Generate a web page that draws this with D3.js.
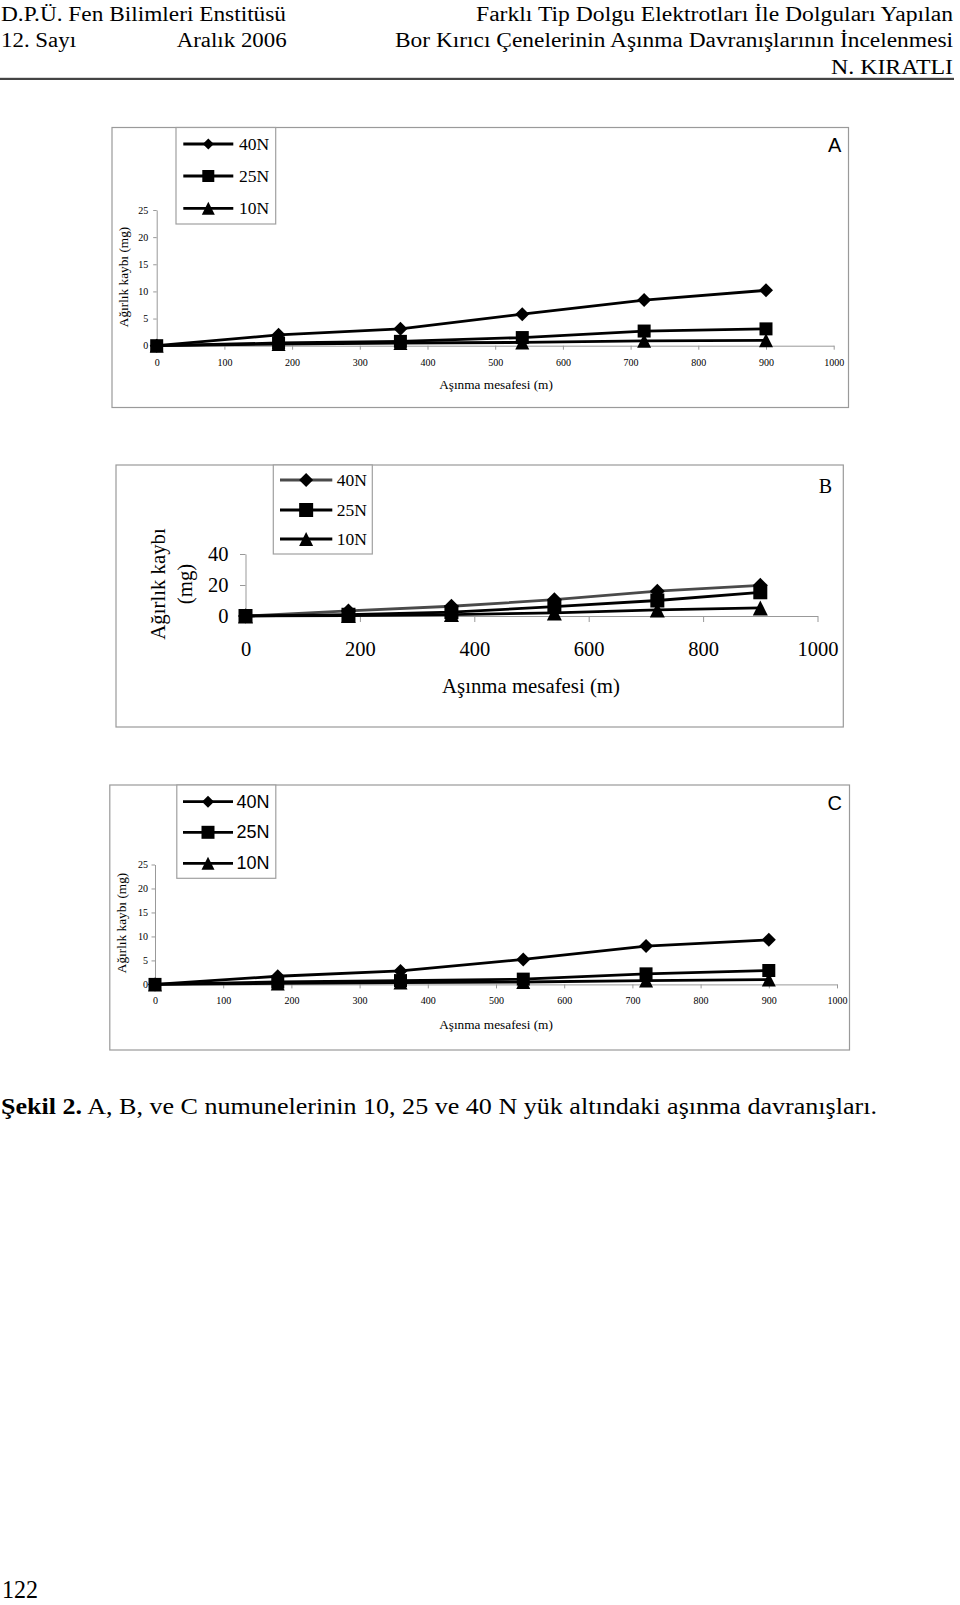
<!DOCTYPE html>
<html><head><meta charset="utf-8">
<script src="https://cdn.jsdelivr.net/npm/d3@7"></script>
<style>body{margin:0;background:#fff} svg{display:block}</style>
</head><body>
<script>
// ---------- data ----------
const distances = [0, 180, 360, 540, 720, 900];
const seriesLabels = ["40N", "25N", "10N"];
const a40 = [0, 2.0, 3.1, 5.8, 8.4, 10.2];
const a25 = [0, 0.5, 0.8, 1.5, 2.7, 3.1];
const a10 = [0, 0.3, 0.5, 0.6, 0.9, 1.0];
const b40 = [0, 3.3, 6.3, 10.5, 16.0, 19.8];
const b25 = [0, 0.8, 2.5, 6.0, 10.0, 15.3];
const b10 = [0, 0.3, 0.9, 2.0, 3.9, 5.2];
const c40 = [0, 1.7, 2.8, 5.2, 8.0, 9.3];
const c25 = [0, 0.5, 0.8, 1.1, 2.2, 2.9];
const c10 = [0, 0.2, 0.4, 0.5, 0.8, 1.0];
const xTicksAC = [0, 100, 200, 300, 400, 500, 600, 700, 800, 900, 1000];
const yTicksAC = [0, 5, 10, 15, 20, 25];
const xTicksB = [0, 200, 400, 600, 800, 1000];
const yTicksB = [0, 20, 40];
const xTitle = "Aşınma mesafesi (m)";
const yTitle = "Ağırlık kaybı (mg)";

const SERIF = "'Liberation Serif','Times New Roman',serif";
const SANS = "'Liberation Sans',Arial,sans-serif";

const svg = d3.select("body").append("svg").attr("width", 960).attr("height", 1605);

// ---------- page texts ----------
function stretchText(t, x, y, len, size, anchor, weight) {
  return svg.append("text").attr("x", x).attr("y", y)
    .attr("font-family", SERIF).attr("font-size", size)
    .attr("font-weight", weight || "normal")
    .attr("text-anchor", anchor || "start")
    .attr("textLength", len).attr("lengthAdjust", "spacingAndGlyphs")
    .attr("fill", "#000").text(t);
}
stretchText("D.P.Ü. Fen Bilimleri Enstitüsü", 1, 20.5, 285, 20);
stretchText("Farklı Tip Dolgu Elektrotları İle Dolguları Yapılan", 476, 20.5, 477, 20);
stretchText("12. Sayı", 1, 47, 75, 20);
stretchText("Aralık 2006", 176.7, 47, 110, 20);
stretchText("Bor Kırıcı Çenelerinin Aşınma Davranışlarının İncelenmesi", 395, 47, 558, 20);
stretchText("N. KIRATLI", 831, 74, 122, 20);
svg.append("rect").attr("x", 0).attr("y", 77.8).attr("width", 954).attr("height", 2.2).attr("fill", "#444");

const cap = svg.append("text").attr("x", 1).attr("y", 1114)
  .attr("font-family", SERIF).attr("font-size", 24)
  .attr("textLength", 876).attr("lengthAdjust", "spacingAndGlyphs");
cap.append("tspan").attr("font-weight", "bold").text("Şekil 2.");
cap.append("tspan").text(" A, B, ve C numunelerinin 10, 25 ve 40 N yük altındaki aşınma davranışları.");

stretchText("122", 2, 1598, 36, 26);

// ---------- markers ----------
function markerPath(type, s) {
  const h = s / 2;
  if (type === "diamond") return `M0,${-h}L${h},0L0,${h}L${-h},0Z`;
  if (type === "square") return `M${-h},${-h}H${h}V${h}H${-h}Z`;
  return `M0,${-h}L${h},${h}L${-h},${h}Z`;
}
const markerTypes = ["diamond", "square", "triangle"];

// ---------- panel drawing ----------
function drawPanel(cfg) {
  const g = svg.append("g");
  g.append("rect").attr("x", cfg.frame[0]).attr("y", cfg.frame[1])
    .attr("width", cfg.frame[2] - cfg.frame[0]).attr("height", cfg.frame[3] - cfg.frame[1])
    .attr("fill", "#fff").attr("stroke", "#9a9a9a").attr("stroke-width", 1.2);

  const x = d3.scaleLinear().domain([0, 1000]).range([cfg.x0, cfg.x1]);
  const y = d3.scaleLinear().domain([0, cfg.yMax]).range([cfg.y0, cfg.y1]);

  const xa = g.append("g").attr("transform", `translate(0,${cfg.y0})`)
    .call(d3.axisBottom(x).tickValues(cfg.xTicks).tickFormat(d3.format("d"))
      .tickSize(cfg.xTickSize).tickSizeOuter(0).tickPadding(cfg.xPad));
  const ya = g.append("g").attr("transform", `translate(${cfg.x0},0)`)
    .call(d3.axisLeft(y).tickValues(cfg.yTicks).tickFormat(d3.format("d"))
      .tickSize(cfg.yTickSize).tickSizeOuter(0).tickPadding(cfg.yPad));
  [xa, ya].forEach(a => {
    a.select(".domain").attr("stroke", "#999").attr("stroke-width", 1);
    a.selectAll(".tick line").attr("stroke", "#999").attr("stroke-width", 1);
    a.selectAll("text").attr("font-family", SERIF).attr("font-size", cfg.tickFont).attr("fill", "#000");
  });

  // titles
  g.append("text").attr("x", cfg.xTitlePos[0]).attr("y", cfg.xTitlePos[1])
    .attr("text-anchor", "middle").attr("font-family", SERIF).attr("font-size", cfg.titleFont)
    .text(xTitle);
  cfg.yTitleLines.forEach((ln, i) => {
    g.append("text").attr("transform", `translate(${cfg.yTitleX[i]},${cfg.yTitleY}) rotate(-90)`)
      .attr("text-anchor", "middle").attr("font-family", SERIF).attr("font-size", cfg.titleFont)
      .text(ln);
  });

  // series
  const line = d3.line().x(d => x(d[0])).y(d => y(d[1]));
  cfg.series.forEach((vals, i) => {
    const pts = distances.map((d, j) => [d, vals[j]]);
    g.append("path").attr("d", line(pts)).attr("fill", "none")
      .attr("stroke", cfg.lineColors[i]).attr("stroke-width", cfg.lineWidth)
      .attr("stroke-linejoin", "round");
    g.selectAll(null).data(pts).join("path")
      .attr("transform", d => `translate(${x(d[0])},${y(d[1])})`)
      .attr("d", markerPath(markerTypes[i], cfg.markerSize[i])).attr("fill", "#000");
  });

  // legend
  const L = cfg.legend;
  g.append("rect").attr("x", L.box[0]).attr("y", L.box[1])
    .attr("width", L.box[2] - L.box[0]).attr("height", L.box[3] - L.box[1])
    .attr("fill", "#fff").attr("stroke", "#a0a0a0").attr("stroke-width", 1.2);
  seriesLabels.forEach((lab, i) => {
    const yy = L.rows[i];
    g.append("line").attr("x1", L.line[0]).attr("x2", L.line[1]).attr("y1", yy).attr("y2", yy)
      .attr("stroke", cfg.lineColors[i]).attr("stroke-width", cfg.lineWidth);
    g.append("path").attr("transform", `translate(${(L.line[0] + L.line[1]) / 2},${yy})`)
      .attr("d", markerPath(markerTypes[i], L.markerSize[i])).attr("fill", "#000");
    g.append("text").attr("x", L.textX).attr("y", yy + L.font * 0.34)
      .attr("font-family", L.family).attr("font-size", L.font).text(lab);
  });

  g.append("text").attr("x", cfg.tag.x).attr("y", cfg.tag.y).attr("text-anchor", "middle")
    .attr("font-family", cfg.tag.family).attr("font-size", cfg.tag.size).text(cfg.tag.text);
}

drawPanel({
  frame: [112, 127.5, 848.5, 407.5],
  x0: 156.7, x1: 833.7, y0: 345.7, y1: 210, yMax: 25,
  xTicks: xTicksAC, yTicks: yTicksAC,
  xTickSize: 4, xPad: 9, yTickSize: 3.5, yPad: 5, tickFont: 10,
  titleFont: 13.3, xTitlePos: [496, 389], yTitleLines: [yTitle], yTitleX: [128], yTitleY: 277,
  series: [a40, a25, a10], lineColors: ["#000", "#000", "#000"], lineWidth: 2.8,
  markerSize: [14, 13, 14],
  legend: { box: [176, 127.5, 275.7, 224], rows: [144, 176, 208.3], line: [183.3, 233.3],
    markerSize: [11, 12, 13], textX: 239, font: 17.5, family: SERIF },
  tag: { text: "A", x: 834.7, y: 151.7, size: 20, family: SANS }
});

drawPanel({
  frame: [116, 465, 843.3, 727],
  x0: 245.5, x1: 817.5, y0: 616, y1: 554, yMax: 40,
  xTicks: xTicksB, yTicks: yTicksB,
  xTickSize: 6, xPad: 19, yTickSize: 5.5, yPad: 11.5, tickFont: 20.5,
  titleFont: 20.8, xTitlePos: [531, 692.5], yTitleLines: ["Ağırlık kaybı", "(mg)"], yTitleX: [165.4, 191.5], yTitleY: 584,
  series: [b40, b25, b10], lineColors: ["#4a4a4a", "#000", "#000"], lineWidth: 2.8,
  markerSize: [15, 14, 15],
  legend: { box: [273.3, 465, 372.3, 554], rows: [480, 510, 539], line: [280, 332.3],
    markerSize: [14, 14, 14], textX: 336.7, font: 17.5, family: SERIF },
  tag: { text: "B", x: 825.3, y: 492.7, size: 20, family: SERIF }
});

drawPanel({
  frame: [109.8, 785, 849.5, 1050],
  x0: 155, x1: 837, y0: 984.4, y1: 864.5, yMax: 25,
  xTicks: xTicksAC, yTicks: yTicksAC,
  xTickSize: 4, xPad: 9, yTickSize: 3.5, yPad: 3.5, tickFont: 10,
  titleFont: 13.3, xTitlePos: [496, 1028.5], yTitleLines: [yTitle], yTitleX: [126], yTitleY: 923,
  series: [c40, c25, c10], lineColors: ["#000", "#000", "#000"], lineWidth: 2.8,
  markerSize: [14, 13, 14],
  legend: { box: [176.8, 785, 275.8, 878.3], rows: [801.7, 832.3, 863.3], line: [183, 233],
    markerSize: [12, 13, 13], textX: 236.5, font: 18, family: SANS },
  tag: { text: "C", x: 834.7, y: 810, size: 20, family: SANS }
});
</script>
</body></html>
